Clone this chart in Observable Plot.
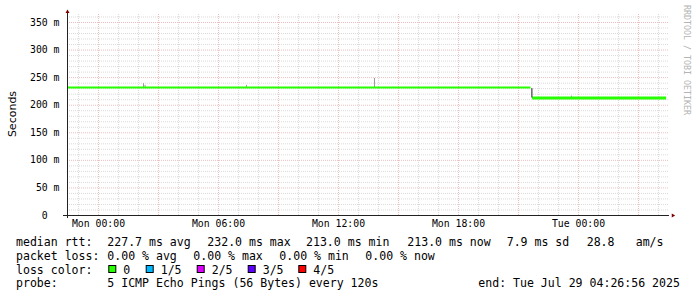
<!DOCTYPE html>
<html><head><meta charset="utf-8">
<script src="https://cdn.jsdelivr.net/npm/d3@7"></script>
<script src="https://cdn.jsdelivr.net/npm/@observablehq/plot@0.6"></script>
<style>html,body{margin:0;padding:0;background:#fff;} svg{display:block}</style>
</head><body><div id="chart"></div>
<script>
// ---- data (hours relative to Mon 00:00, values in ms) ----
const xStart = -1.55;            // Sun 22:27
const xEnd = 28.45;              // Tue 04:27
const yTop = 366.3;
const xLabelHours = [0, 6, 12, 18, 24];
const xLabels = ["Mon 00:00", "Mon 06:00", "Mon 12:00", "Mon 18:00", "Tue 00:00"];
const yTicks = [0, 50, 100, 150, 200, 250, 300, 350];
const yTickLabels = ["0\u00a0\u00a0", "50 m", "100 m", "150 m", "200 m", "250 m", "300 m", "350 m"];

const medianHours = [-1.55, 21.6, 21.68, 28.38];
const medianMs = [232, 232, 213, 213];
const medianSegment = ["before", "before", "after", "after"];

const smokeHours = [2.25, 2.33, 7.4, 13.8, 23.65];
const smokeLowMs = [232, 232, 232, 232, 213];
const smokeHighMs = [239, 236, 236, 248.5, 216.5];

const stepHours = [21.67];
const stepLowMs = [213];
const stepHighMs = [230];

const rttLabels = ["227.7 ms avg", "232.0 ms max", "213.0 ms min", "213.0 ms now", "7.9 ms sd", "28.8", "am/s"];
const lossLabels = ["0.00 % avg", "0.00 % max", "0.00 % min", "0.00 % now"];
const lossColorNames = ["0", "1/5", "2/5", "3/5", "4/5"];
const lossColors = ["#26ff00", "#00b8ff", "#dd00ff", "#5e00ff", "#ff0000"];
const probeText = "5 ICMP Echo Pings (56 Bytes) every 120s";
const endText = "end: Tue Jul 29 04:26:56 2025";

// ---- derived tables ----
const median = medianHours.map((h, i) => ({h, ms: medianMs[i], seg: medianSegment[i]}));
const smoke = smokeHours.map((h, i) => ({h, lo: smokeLowMs[i], hi: smokeHighMs[i]}));
const step = stepHours.map((h, i) => ({h, lo: stepLowMs[i], hi: stepHighMs[i]}));
const yMinor = d3.range(10, 370, 10).filter(v => v % 50 !== 0);
const yMajor = yTicks;
const xMinor = d3.range(-1, 29).filter(h => h % 3 !== 0);
const xMajor = d3.range(0, 29, 3);

const gridGray = "#dadada";
const gridRed = "#ecc0c0";
const xGridEnd = xEnd + 0.1;

const plot = Plot.plot({
  width: 697, height: 297,
  marginLeft: 67, marginRight: 30, marginTop: 13, marginBottom: 82,
  style: {fontFamily: "'DejaVu Sans Mono', monospace", fontSize: "9.8px", background: "#fff", color: "#000"},
  x: {type: "linear", domain: [xStart, xEnd], axis: null},
  y: {type: "linear", domain: [0, yTop], axis: null},
  marks: [
    Plot.ruleY(yMinor, {x1: xStart, x2: xGridEnd, stroke: gridGray, strokeDasharray: "1,1"}),
    Plot.ruleX(xMinor, {y1: 0, y2: yTop, stroke: gridGray, strokeDasharray: "1,1"}),
    Plot.ruleY(yMajor.filter(v => v > 0), {x1: xStart, x2: xGridEnd, stroke: gridRed, strokeDasharray: "1,1"}),
    Plot.ruleX(xMajor, {y1: 0, y2: yTop, stroke: gridRed, strokeDasharray: "1,1"}),
    Plot.ruleX(smoke, {x: "h", y1: "lo", y2: "hi", stroke: "#9a9a9a", strokeWidth: 1}),
    Plot.line(median.filter(d => d.seg === "before"), {x: "h", y: "ms", stroke: lossColors[0], strokeWidth: 2, strokeLinecap: "butt"}),
    Plot.line(median.filter(d => d.seg === "after"), {x: "h", y: "ms", stroke: lossColors[0], strokeWidth: 3, strokeLinecap: "butt"}),
    Plot.ruleX(step, {x: "h", y1: "lo", y2: "hi", stroke: "#1a1a1a", strokeWidth: 1}),
    // axes lines
    Plot.ruleY([0], {x1: xStart - 0.2, x2: xEnd + 0.1, stroke: "#222"}),
    Plot.ruleX([xStart], {y1: -5.5, y2: 369, stroke: "#222"}),
    Plot.dot([{h: xStart, v: 369.3}], {x: "h", y: "v", symbol: "triangle2", r: 1.9, fill: "#800000", stroke: "none"}),
    Plot.dot([{h: xEnd + 0.27, v: 0}], {x: "h", y: "v", symbol: "triangle2", r: 1.9, rotate: 90, fill: "#800000", stroke: "none"}),
    Plot.axisY(yTicks, {tickSize: 0, tickPadding: 8, label: null, tickFormat: d => yTickLabels[yTicks.indexOf(d)]}),
    Plot.axisX(xLabelHours, {tickSize: 0, tickPadding: 5, label: null, tickFormat: d => xLabels[xLabelHours.indexOf(d)]})
  ]
});
document.getElementById("chart").appendChild(plot);

const svg = d3.select(plot);
svg.style("white-space", "pre");
// y-axis label
svg.append("text")
  .attr("transform", "translate(15.5,114) rotate(-90)")
  .attr("text-anchor", "middle")
  .style("font-family", "'DejaVu Sans', sans-serif").style("font-size", "11px")
  .attr("fill", "#000").text("Seconds");
// watermark
svg.append("text")
  .attr("transform", "translate(684,5) rotate(90)")
  .attr("text-anchor", "start")
  .style("font-family", "'DejaVu Sans Mono', monospace").style("font-size", "8.3px")
  .attr("fill", "#b4b4b4").text("RRDTOOL / TOBI OETIKER");

const legend = svg.append("g")
  .attr("text-anchor", "start")
  .style("font-family", "'DejaVu Sans Mono', monospace").style("font-size", "11.56px")
  .attr("fill", "#000");
function put(x, y, t) { legend.append("text").attr("x", x).attr("y", y).attr("text-anchor", "start").text(t); }
const b1 = 246, b2 = 259.6, b3 = 273.5, b4 = 287;
put(16, b1, "median rtt:");
[107.3, 207.3, 306, 407.3, 506.7, 586.7, 635.7].forEach((x, i) => put(x, b1, rttLabels[i]));
put(16, b2, "packet loss:");
[107.3, 193.3, 279.3, 365.3].forEach((x, i) => put(x, b2, lossLabels[i]));
put(16, b3, "loss color:");
[108.3, 145.7, 196.7, 247.7, 298.3].forEach((x, i) => {
  legend.append("rect").attr("x", x + 0.5).attr("y", 265.5).attr("width", 7).attr("height", 7)
    .attr("fill", lossColors[i]).attr("stroke", "#000").attr("stroke-width", 1);
  put(x + 15, b3, lossColorNames[i]);
});
put(16, b4, "probe:");
put(107.3, b4, probeText);
put(478.3, b4, endText);
</script></body></html>
